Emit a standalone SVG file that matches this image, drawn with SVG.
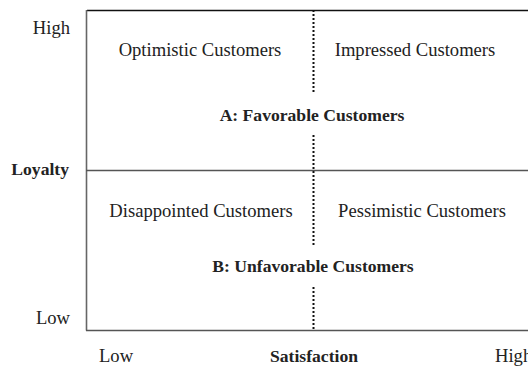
<svg xmlns="http://www.w3.org/2000/svg" width="528" height="369" viewBox="0 0 528 369">
<style>
text{font-family:"Liberation Serif","Times New Roman",serif;font-size:18.6px;fill:#222}
.b{font-weight:bold;font-size:17.6px}
.m{text-anchor:middle}
.e{text-anchor:end}
.frame{stroke:#444;stroke-width:1.4;fill:none}
.dot{stroke:#111;stroke-width:2;stroke-dasharray:2 2;fill:none}
</style>
<rect width="528" height="369" fill="#fff"/>
<g id="connectors">
<line class="frame" x1="87" y1="10.5" x2="528" y2="10.5" style="stroke:#111"/>
<line class="frame" x1="86.5" y1="10" x2="86.5" y2="330.5" style="stroke:#666;stroke-width:1.6"/>
<line class="frame" x1="86" y1="170.5" x2="528" y2="170.5" style="stroke:#555"/>
<line class="frame" x1="86" y1="330.5" x2="528" y2="330.5" style="stroke:#555"/>
<line class="dot" x1="313.5" y1="10" x2="313.5" y2="93"/>
<line class="dot" x1="313.5" y1="135" x2="313.5" y2="246"/>
<line class="dot" x1="313.5" y1="287" x2="313.5" y2="329"/>
</g>
<g id="axis-y"><text class="e" x="70" y="34">High</text><text class="e b" x="69" y="175">Loyalty</text><text class="e" x="70" y="324">Low</text></g>
<g id="axis-x"><text x="99" y="362">Low</text><text class="m b" x="314" y="362">Satisfaction</text><text x="495" y="362">High</text></g>
<g id="optimistic"><text class="m" x="200" y="56">Optimistic Customers</text></g>
<g id="impressed"><text class="m" x="415" y="56">Impressed Customers</text></g>
<g id="favorable"><text class="m b" x="312" y="121">A: Favorable Customers</text></g>
<g id="disappointed"><text class="m" x="201" y="217">Disappointed Customers</text></g>
<g id="pessimistic"><text class="m" x="422" y="217">Pessimistic Customers</text></g>
<g id="unfavorable"><text class="m b" x="313" y="272">B: Unfavorable Customers</text></g>
</svg>
